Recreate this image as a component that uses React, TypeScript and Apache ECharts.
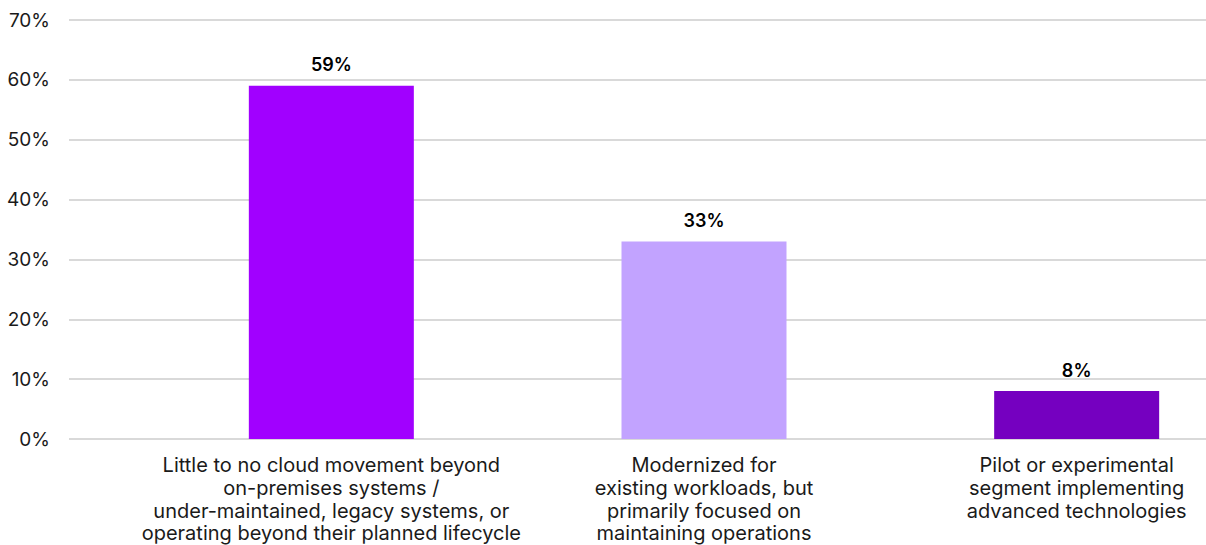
import React, { useEffect, useRef } from "react";
import * as echarts from "echarts";

const categories = [
  "Little to no cloud movement beyond\non-premises systems /\nunder-maintained, legacy systems, or\noperating beyond their planned lifecycle",
  "Modernized for\nexisting workloads, but\nprimarily focused on\nmaintaining operations",
  "Pilot or experimental\nsegment implementing\nadvanced technologies",
];
const values = [59, 33, 8];
const barColors = ["#A100FF", "#C2A3FF", "#7500C0"];
const yMin = 0;
const yMax = 70;
const yStep = 10;

export default function App() {
  const ref = useRef<HTMLDivElement>(null);
  useEffect(() => {
    if (!ref.current) return;
    const chart = echarts.init(ref.current, undefined, { renderer: "svg" });
    const font = "Inter, Roboto, 'Noto Sans', sans-serif";
    chart.setOption({
      animation: false,
      backgroundColor: "#ffffff",
      grid: [
        { left: 69, right: 0, top: 20, bottom: 106, outerBoundsMode: "none", containLabel: false },
        { left: 145, width: 1118, top: 20, bottom: 106, outerBoundsMode: "none", containLabel: false },
      ],
      xAxis: [
        { type: "category", gridIndex: 0, data: categories, show: false },
        {
          type: "category",
          gridIndex: 1,
          data: categories,
          axisLine: { show: false },
          axisTick: { show: false },
          axisLabel: {
            interval: 0,
            color: "#1a1a1a",
            fontFamily: font,
            fontSize: 20,
            lineHeight: 22.7,
            margin: 15,
          },
        },
      ],
      yAxis: [
        {
          type: "value",
          gridIndex: 0,
          min: yMin,
          max: yMax,
          interval: yStep,
          axisLine: { show: false },
          axisTick: { show: false },
          splitLine: { lineStyle: { color: "#d9d9d9", width: 2 } },
          axisLabel: {
            formatter: "{value}%",
            color: "#1a1a1a",
            fontFamily: font,
            fontSize: 19,
            margin: 19,
          },
        },
        {
          type: "value",
          gridIndex: 1,
          min: yMin,
          max: yMax,
          interval: yStep,
          show: false,
          splitLine: { show: false },
        },
      ],
      series: [
        {
          type: "bar",
          xAxisIndex: 1,
          yAxisIndex: 1,
          barWidth: 165,
          data: values.map((v, i) => ({ value: v, itemStyle: { color: barColors[i] } })),
          label: {
            show: true,
            position: "top",
            distance: 12,
            formatter: "{c}%",
            color: "#000",
            fontFamily: font,
            fontSize: 18,
            fontWeight: 600,
          },
        },
      ],
    });
    return () => chart.dispose();
  }, []);
  return (
    <div
      ref={ref}
      style={{ position: "fixed", left: 0, top: 0, width: 1206, height: 545, overflow: "hidden" }}
    />
  );
}
